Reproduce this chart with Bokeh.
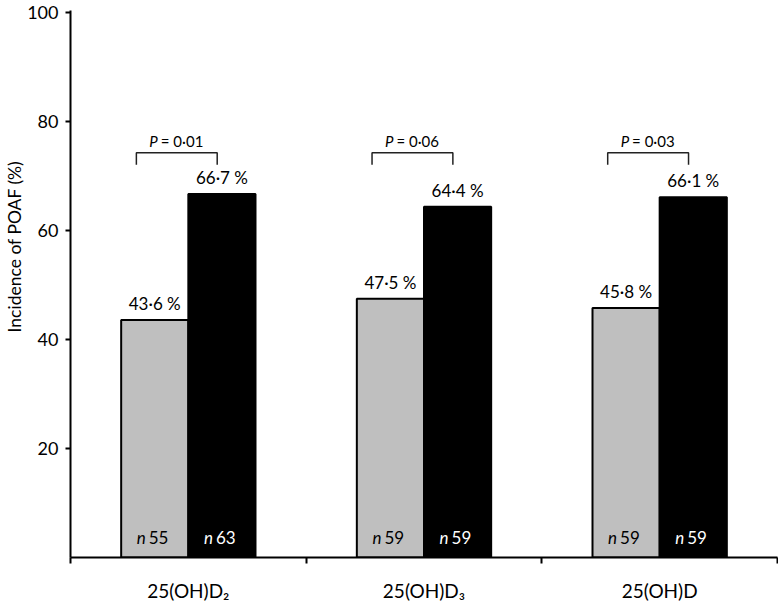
from bokeh.plotting import figure
from bokeh.models import FixedTicker, Range1d, Title
from bokeh.core.properties import value
from bokeh.embed import file_html
from bokeh.resources import INLINE

# ---- data ----
categories = ["25(OH)D\u2082", "25(OH)D\u2083", "25(OH)D"]
low_values = [43.6, 47.5, 45.8]      # grey bars
high_values = [66.7, 64.4, 66.1]     # black bars
low_n = [55, 59, 59]
high_n = [63, 59, 59]
p_values = ["0\u00b701", "0\u00b706", "0\u00b703"]
y_ticks = [20, 40, 60, 80, 100]
y_title = "Incidence of POAF (%)"

FONT = "Lato"
centers = [i + 0.5 for i in range(len(categories))]
off = 0.1425
bw = 0.285
gx = [c - off for c in centers]
bx = [c + off for c in centers]

def fmt(v):
    return f"{v:.1f}".replace(".", "\u00b7") + " %"

p = figure(width=778, height=607, x_range=Range1d(0, 3), y_range=Range1d(0, 100.4),
           output_backend="svg", toolbar_location=None,
           min_border_left=70, min_border_right=1, min_border_top=10, min_border_bottom=50)
p.outline_line_color = None
p.xgrid.visible = False
p.ygrid.visible = False
p.background_fill_color = "white"

# bars
p.vbar(x=gx, top=low_values, bottom=0, width=bw, fill_color="#bfbfbf", line_color="black", line_width=2)
p.vbar(x=bx, top=high_values, bottom=0, width=bw, fill_color="black", line_color="black", line_width=2)

# value labels
p.text(x=gx, y=low_values, text=[fmt(v) for v in low_values], text_align="center",
       text_baseline="bottom", y_offset=-6, text_font=value(FONT), text_font_size="17px", text_color="black")
p.text(x=bx, y=high_values, text=[fmt(v) for v in high_values], text_align="center",
       text_baseline="bottom", y_offset=-6, text_font=value(FONT), text_font_size="17px", text_color="black")

# n labels
zeros = [0] * len(categories)
p.text(x=gx, y=zeros, text=["n"] * 3, text_align="right", text_baseline="middle", x_offset=-9, y_offset=-20,
       text_font=value(FONT), text_font_style="italic", text_font_size="17px", text_color="black")
p.text(x=gx, y=zeros, text=[str(n) for n in low_n], text_align="left", text_baseline="middle", x_offset=-6, y_offset=-20,
       text_font=value(FONT), text_font_size="17px", text_color="black")
p.text(x=bx, y=zeros, text=["n"] * 3, text_align="right", text_baseline="middle", x_offset=-9, y_offset=-20,
       text_font=value(FONT), text_font_style="italic", text_font_size="17px", text_color="white")
p.text(x=bx, y=zeros, text=[str(n) for n in high_n], text_align="left", text_baseline="middle", x_offset=-6, y_offset=-20,
       text_font=value(FONT), text_font_size="17px", text_color="white")

# significance brackets
br_top, br_bot, p_y = 74.3, 72.1, 76.5
left_x = [c - off - 0.078 for c in centers]
right_x = [c + off - 0.02 for c in centers]
xs = [[l, l, r, r] for l, r in zip(left_x, right_x)]
ys = [[br_bot, br_top, br_top, br_bot] for _ in centers]
p.multi_line(xs=xs, ys=ys, line_color="#222222", line_width=1.5)
mid_x = [(l + r) / 2 for l, r in zip(left_x, right_x)]
p.text(x=mid_x, y=[p_y] * 3, text=["P"] * 3, text_align="right", text_baseline="middle", x_offset=-19,
       text_font=value(FONT), text_font_style="italic", text_font_size="15px", text_color="black")
p.text(x=mid_x, y=[p_y] * 3, text=["= " + s for s in p_values], text_align="left", text_baseline="middle", x_offset=-16,
       text_font=value(FONT), text_font_size="15px", text_color="black")

# axes
xa = p.xaxis[0]
xa.ticker = FixedTicker(ticks=centers, minor_ticks=[0, 1, 2, 3])
xa.major_label_overrides = {c: lab for c, lab in zip(centers, categories)}
xa.major_tick_line_color = None
xa.major_tick_out = 0
xa.major_tick_in = 0
xa.minor_tick_out = 6
xa.minor_tick_in = 0
xa.minor_tick_line_width = 2
xa.minor_tick_line_color = "black"
xa.axis_line_width = 2
xa.axis_line_color = "black"
xa.major_label_standoff = 15
xa.major_label_text_font = FONT
xa.major_label_text_font_size = "19px"
xa.major_label_text_color = "black"

ya = p.yaxis[0]
ya.ticker = FixedTicker(ticks=y_ticks, minor_ticks=[])
ya.major_tick_out = 5
ya.major_tick_in = 0
ya.major_tick_line_width = 2
ya.major_tick_line_color = "black"
ya.minor_tick_line_color = None
ya.axis_line_width = 2
ya.axis_line_color = "black"
ya.major_label_standoff = 7
ya.major_label_text_font = FONT
ya.major_label_text_font_size = "18px"
ya.major_label_text_color = "black"

ytitle = Title(text=y_title, align="right", offset=150, standoff=0,
               text_font=FONT, text_font_size="17.5px", text_font_style="normal", text_color="black")
p.add_layout(ytitle, "left")

open("out.html", "w").write(file_html(p, INLINE))
